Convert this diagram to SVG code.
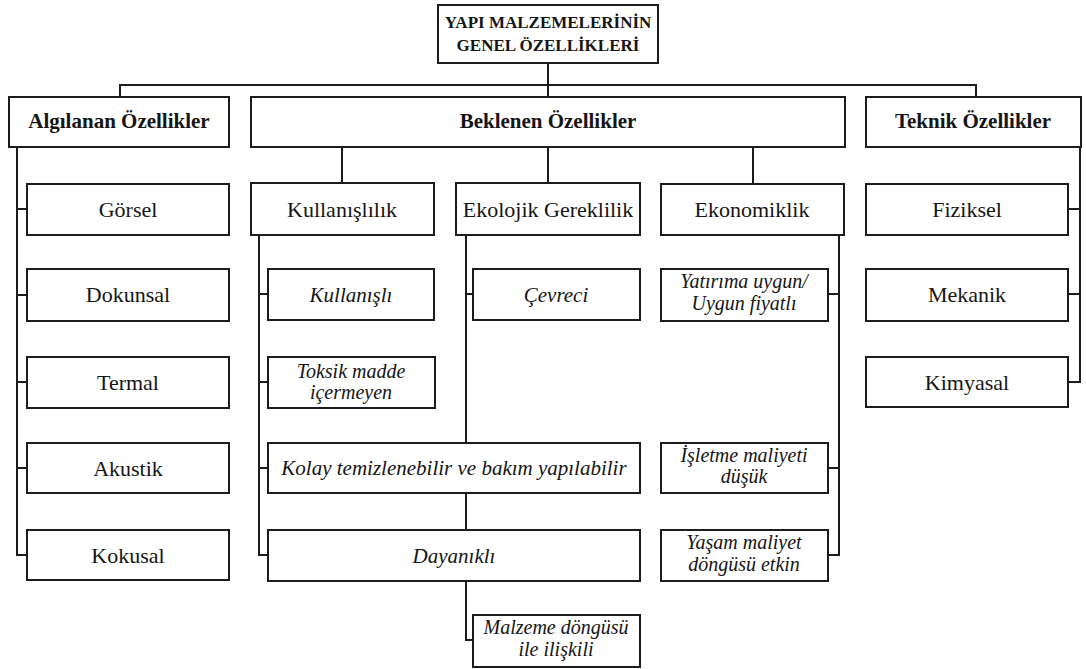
<svg xmlns="http://www.w3.org/2000/svg" width="1086" height="669" viewBox="0 0 1086 669" font-family="Liberation Serif, DejaVu Serif, serif">
<style>
.box{fill:#fff;stroke:#1c1c1c;stroke-width:2}
.ln{fill:none;stroke:#1c1c1c;stroke-width:2}
text{fill:#151515;text-anchor:middle}
.t{font-size:22px}
.b{font-size:21px;font-weight:bold}
.h{font-size:17px;font-weight:bold}
.i{font-size:21px;font-style:italic}
.i2{font-size:20px;font-style:italic}
</style>
<rect width="1086" height="669" fill="#fff"/>
<g id="connectors" class="ln">
<path d="M548 63V97"/>
<path d="M120 97V85H976V97"/>
<path d="M17 147V555H27M17 209H27M17 295H27M17 382H27M17 468H27"/>
<path d="M1080 147V382H1068M1068 209H1080M1068 294H1080"/>
<path d="M342 147V183M548 147V183M753 147V184"/>
<path d="M259 235V555H268M259 294H268M259 382H268M259 468H268"/>
<path d="M466 235V443M466 294H473M466 493V530M466 581V640H473"/>
<path d="M839 235V555H828M828 294H839M828 468H839"/>
</g>
<g id="root"><rect class="box" x="438" y="5" width="220" height="58"/><text class="h" x="548" y="28">YAPI MALZEMELERİNİN</text><text class="h" x="548" y="51">GENEL ÖZELLİKLERİ</text></g>
<g id="algilanan"><rect class="box" x="9" y="97" width="220" height="50"/><text class="b" x="119" y="128">Algılanan Özellikler</text></g>
<g id="beklenen"><rect class="box" x="251" y="97" width="594" height="50"/><text class="b" x="548" y="128">Beklenen Özellikler</text></g>
<g id="teknik"><rect class="box" x="866" y="97" width="215" height="50"/><text class="b" x="973" y="128">Teknik Özellikler</text></g>
<g id="gorsel"><rect class="box" x="27" y="184" width="202" height="51"/><text class="t" x="128" y="217">Görsel</text></g>
<g id="dokunsal"><rect class="box" x="27" y="269" width="202" height="52"/><text class="t" x="128" y="302">Dokunsal</text></g>
<g id="termal"><rect class="box" x="27" y="357" width="202" height="51"/><text class="t" x="128" y="390">Termal</text></g>
<g id="akustik"><rect class="box" x="27" y="443" width="202" height="50"/><text class="t" x="128" y="476">Akustik</text></g>
<g id="kokusal"><rect class="box" x="27" y="530" width="202" height="50"/><text class="t" x="128" y="563">Kokusal</text></g>
<g id="kullanislilik"><rect class="box" x="251" y="183" width="183" height="52"/><text class="t" x="342" y="217">Kullanışlılık</text></g>
<g id="ekolojik"><rect class="box" x="456" y="183" width="184" height="52"/><text class="t" x="548" y="217">Ekolojik Gereklilik</text></g>
<g id="ekonomiklik"><rect class="box" x="661" y="184" width="183" height="51"/><text class="t" x="752" y="217">Ekonomiklik</text></g>
<g id="kullanisli"><rect class="box" x="268" y="269" width="166" height="51"/><text class="i" x="351" y="302">Kullanışlı</text></g>
<g id="toksik"><rect class="box" x="268" y="357" width="167" height="51"/><text class="i2" x="351" y="378">Toksik madde</text><text class="i2" x="351" y="399">içermeyen</text></g>
<g id="kolay"><rect class="box" x="268" y="443" width="372" height="50"/><text class="i" x="454" y="475">Kolay temizlenebilir ve bakım yapılabilir</text></g>
<g id="dayanikli"><rect class="box" x="268" y="530" width="372" height="51"/><text class="i" x="454" y="563">Dayanıklı</text></g>
<g id="malzeme"><rect class="box" x="473" y="615" width="167" height="52"/><text class="i2" x="556" y="634">Malzeme döngüsü</text><text class="i2" x="556" y="656">ile ilişkili</text></g>
<g id="cevreci"><rect class="box" x="473" y="269" width="167" height="51"/><text class="i" x="556" y="302">Çevreci</text></g>
<g id="yatirima"><rect class="box" x="661" y="269" width="167" height="52"/><text class="i2" x="744" y="288">Yatırıma uygun/</text><text class="i2" x="744" y="310">Uygun fiyatlı</text></g>
<g id="isletme"><rect class="box" x="661" y="443" width="167" height="50"/><text class="i2" x="744" y="462">İşletme maliyeti</text><text class="i2" x="744" y="483">düşük</text></g>
<g id="yasam"><rect class="box" x="661" y="530" width="167" height="51"/><text class="i2" x="744" y="549">Yaşam maliyet</text><text class="i2" x="744" y="571">döngüsü etkin</text></g>
<g id="fiziksel"><rect class="box" x="866" y="184" width="202" height="51"/><text class="t" x="967" y="217">Fiziksel</text></g>
<g id="mekanik"><rect class="box" x="866" y="269" width="202" height="52"/><text class="t" x="967" y="302">Mekanik</text></g>
<g id="kimyasal"><rect class="box" x="866" y="357" width="202" height="50"/><text class="t" x="967" y="390">Kimyasal</text></g>
</svg>
